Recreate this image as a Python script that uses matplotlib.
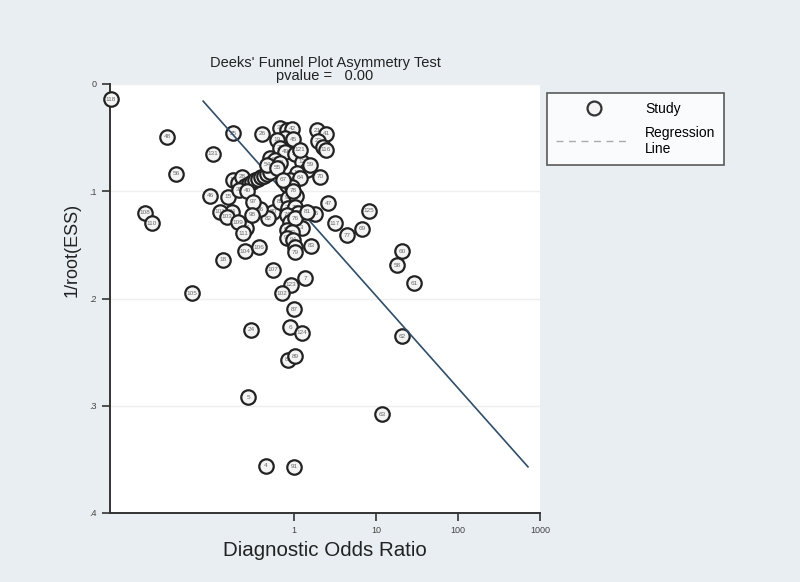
import matplotlib
matplotlib.use("Agg")
import matplotlib.pyplot as plt
from matplotlib.lines import Line2D
from matplotlib.ticker import FixedLocator, FixedFormatter, NullLocator

plt.rcParams['font.family'] = ['Liberation Sans', 'DejaVu Sans']

# --- Data: study id, diagnostic odds ratio, 1/root(ESS) ---
STUDY_ID = [118, 48, 131, 56, 25, 26, 46, 15, 108, 110,
            18, 105, 104, 106, 107, 7, 123, 102, 87, 24,
            6, 124, 88, 89, 5, 4, 91, 63, 62, 60,
            58, 61, 125, 69, 77, 117, 47, 86, 83, 3,
            80, 82, 84, 27, 101, 103, 109, 111,
            16, 17, 28, 29, 30, 31, 33, 34, 35, 36, 37, 38, 39, 40,
            32, 43, 42, 44, 45, 19, 20, 49, 50, 51, 52, 53, 54, 55,
            12, 120, 13, 57, 64, 65, 66, 67, 121,
            21, 41, 22, 23, 116, 59, 70,
            96, 97, 98, 85, 99, 100, 78, 71, 72, 73, 74, 75, 76, 81,
            90, 92, 93, 94, 95, 79]
DOR = [0.00586, 0.0283, 0.103, 0.0364, 0.180, 0.407, 0.0946, 0.157, 0.0152, 0.0185,
       0.136, 0.0570, 0.252, 0.374, 0.555, 1.36, 0.919, 0.714, 1.0, 0.299,
       0.894, 1.25, 0.845, 1.03, 0.275, 0.456, 1.0, 11.8, 20.7, 20.7,
       18.0, 29.1, 8.2, 6.75, 4.43, 3.16, 2.6, 1.80, 1.61, 1.25,
       0.555, 0.482, 0.175, 0.260, 0.125, 0.152, 0.207, 0.239,
       0.180, 0.207, 0.232, 0.252, 0.283, 0.307, 0.334, 0.364, 0.396, 0.431, 0.469, 0.510, 0.213, 0.267,
       0.675, 0.822, 0.945, 0.777, 0.972, 0.621, 0.675, 0.777, 1.03, 0.510, 0.587, 0.675, 0.469, 0.621,
       1.25, 1.44, 1.09, 0.894, 1.18, 0.822, 0.945, 0.734, 1.18,
       1.91, 2.46, 1.96, 2.26, 2.46, 1.57, 2.07,
       0.385, 0.316, 0.307, 0.675, 0.845, 1.06, 0.972, 0.845, 1.03, 1.12, 0.822, 0.894, 1.03, 1.44,
       0.822, 0.945, 0.822, 0.972, 1.03, 1.03]
INV_ROOT_ESS = [0.014, 0.0494, 0.0652, 0.0839, 0.0457, 0.0466, 0.104, 0.105, 0.120, 0.130,
                0.164, 0.195, 0.156, 0.152, 0.173, 0.181, 0.187, 0.195, 0.210, 0.229,
                0.227, 0.232, 0.257, 0.254, 0.292, 0.356, 0.357, 0.308, 0.235, 0.156,
                0.169, 0.186, 0.118, 0.135, 0.141, 0.130, 0.111, 0.121, 0.151, 0.134,
                0.119, 0.125, 0.119, 0.134, 0.119, 0.124, 0.129, 0.139,
                0.0895, 0.0923, 0.0867, 0.0951, 0.0932, 0.0913, 0.0895, 0.0885, 0.0867, 0.0857, 0.0839, 0.082, 0.0988, 0.0997,
                0.041, 0.0429, 0.0419, 0.0503, 0.0513, 0.0522, 0.0596, 0.0634, 0.0652, 0.069, 0.0708, 0.0736, 0.0755, 0.0783,
                0.0727, 0.0801, 0.0829, 0.0895, 0.0876, 0.0941, 0.096, 0.0895, 0.0615,
                0.0429, 0.0466, 0.0531, 0.0587, 0.0615, 0.0755, 0.0867,
                0.117, 0.110, 0.122, 0.110, 0.106, 0.104, 0.0997, 0.1156, 0.115, 0.120, 0.122, 0.129, 0.125, 0.119,
                0.136, 0.138, 0.1435, 0.145, 0.152, 0.157]

# regression line end points (DOR, 1/root(ESS))
REG_DOR = [0.078, 714]
REG_Y = [0.016, 0.357]

X_TICKS = [1, 10, 100, 1000]
X_TICK_LABELS = ['1', '10', '100', '1000']
Y_TICKS = [0, 0.1, 0.2, 0.3, 0.4]
Y_TICK_LABELS = ['0', '.1', '.2', '.3', '.4']

BG = '#e8eef1'
fig = plt.figure(figsize=(8, 5.82), dpi=100, facecolor=BG)
ax = fig.add_axes([110 / 800, 1 - 513 / 582, 430 / 800, 429 / 582])
ax.set_facecolor('white')

ax.set_xscale('log')
ax.set_xlim(0.0057, 1000)
ax.set_ylim(0.4, 0)

# studies, drawn one by one so later circles cover earlier ones
for i, (sid, x, y) in enumerate(zip(STUDY_ID, DOR, INV_ROOT_ESS)):
    z = 3 + i * 0.01
    ax.scatter([x], [y], s=108, facecolor='#f4f4f4', edgecolor='#222222',
               linewidth=1.6, zorder=z, clip_on=False)
    ax.text(x, y, str(sid), fontsize=4.6, color='#6a6a6a', ha='center',
            va='center', zorder=z + 0.005, clip_on=False)

ax.plot(REG_DOR, REG_Y, color='#2f4d68', lw=1.2, zorder=3.5)

ax.xaxis.set_major_locator(FixedLocator(X_TICKS))
ax.xaxis.set_major_formatter(FixedFormatter(X_TICK_LABELS))
ax.xaxis.set_minor_locator(NullLocator())
ax.yaxis.set_major_locator(FixedLocator(Y_TICKS))
ax.yaxis.set_major_formatter(FixedFormatter(Y_TICK_LABELS))
ax.tick_params(axis='both', labelsize=6.5, labelcolor='#444444', length=6,
               width=1.2, color='#333333', direction='out')

ax.yaxis.grid(True, color='#efefef', lw=1)
ax.set_axisbelow(True)
for s in ['top', 'right']:
    ax.spines[s].set_visible(False)
for s in ['left', 'bottom']:
    ax.spines[s].set_color('#333333')
    ax.spines[s].set_linewidth(1.4)

ax.set_xlabel('Diagnostic Odds Ratio', fontsize=14.8, color='#222222', labelpad=4)
ax.set_ylabel('1/root(ESS)', fontsize=13, color='#222222')
ax.yaxis.set_label_coords(-0.068, 0.613)
ax.set_title("Deeks' Funnel Plot Asymmetry Test\npvalue =   0.00", fontsize=10.5,
             color='#222222', pad=3, linespacing=0.85)

handles = [Line2D([], [], ls='none', marker='o', markersize=10, markerfacecolor='#f4f4f4',
                  markeredgecolor='#333333', markeredgewidth=1.6),
           Line2D([], [], ls=(0, (5, 4)), color='#aaaaaa', lw=1)]
leg = fig.legend(handles, ['Study', 'Regression\nLine'], loc='upper left',
                 bbox_to_anchor=(547 / 800, 1 - 93 / 582), fontsize=10,
                 frameon=True, fancybox=False, edgecolor='#333333',
                 handlelength=5.4, handletextpad=1.0, borderpad=0.65,
                 labelspacing=0.7, borderaxespad=0)
leg.get_frame().set_linewidth(1.2)
leg.get_frame().set_facecolor('white')

fig.savefig('out.png', dpi=100, facecolor=BG)
